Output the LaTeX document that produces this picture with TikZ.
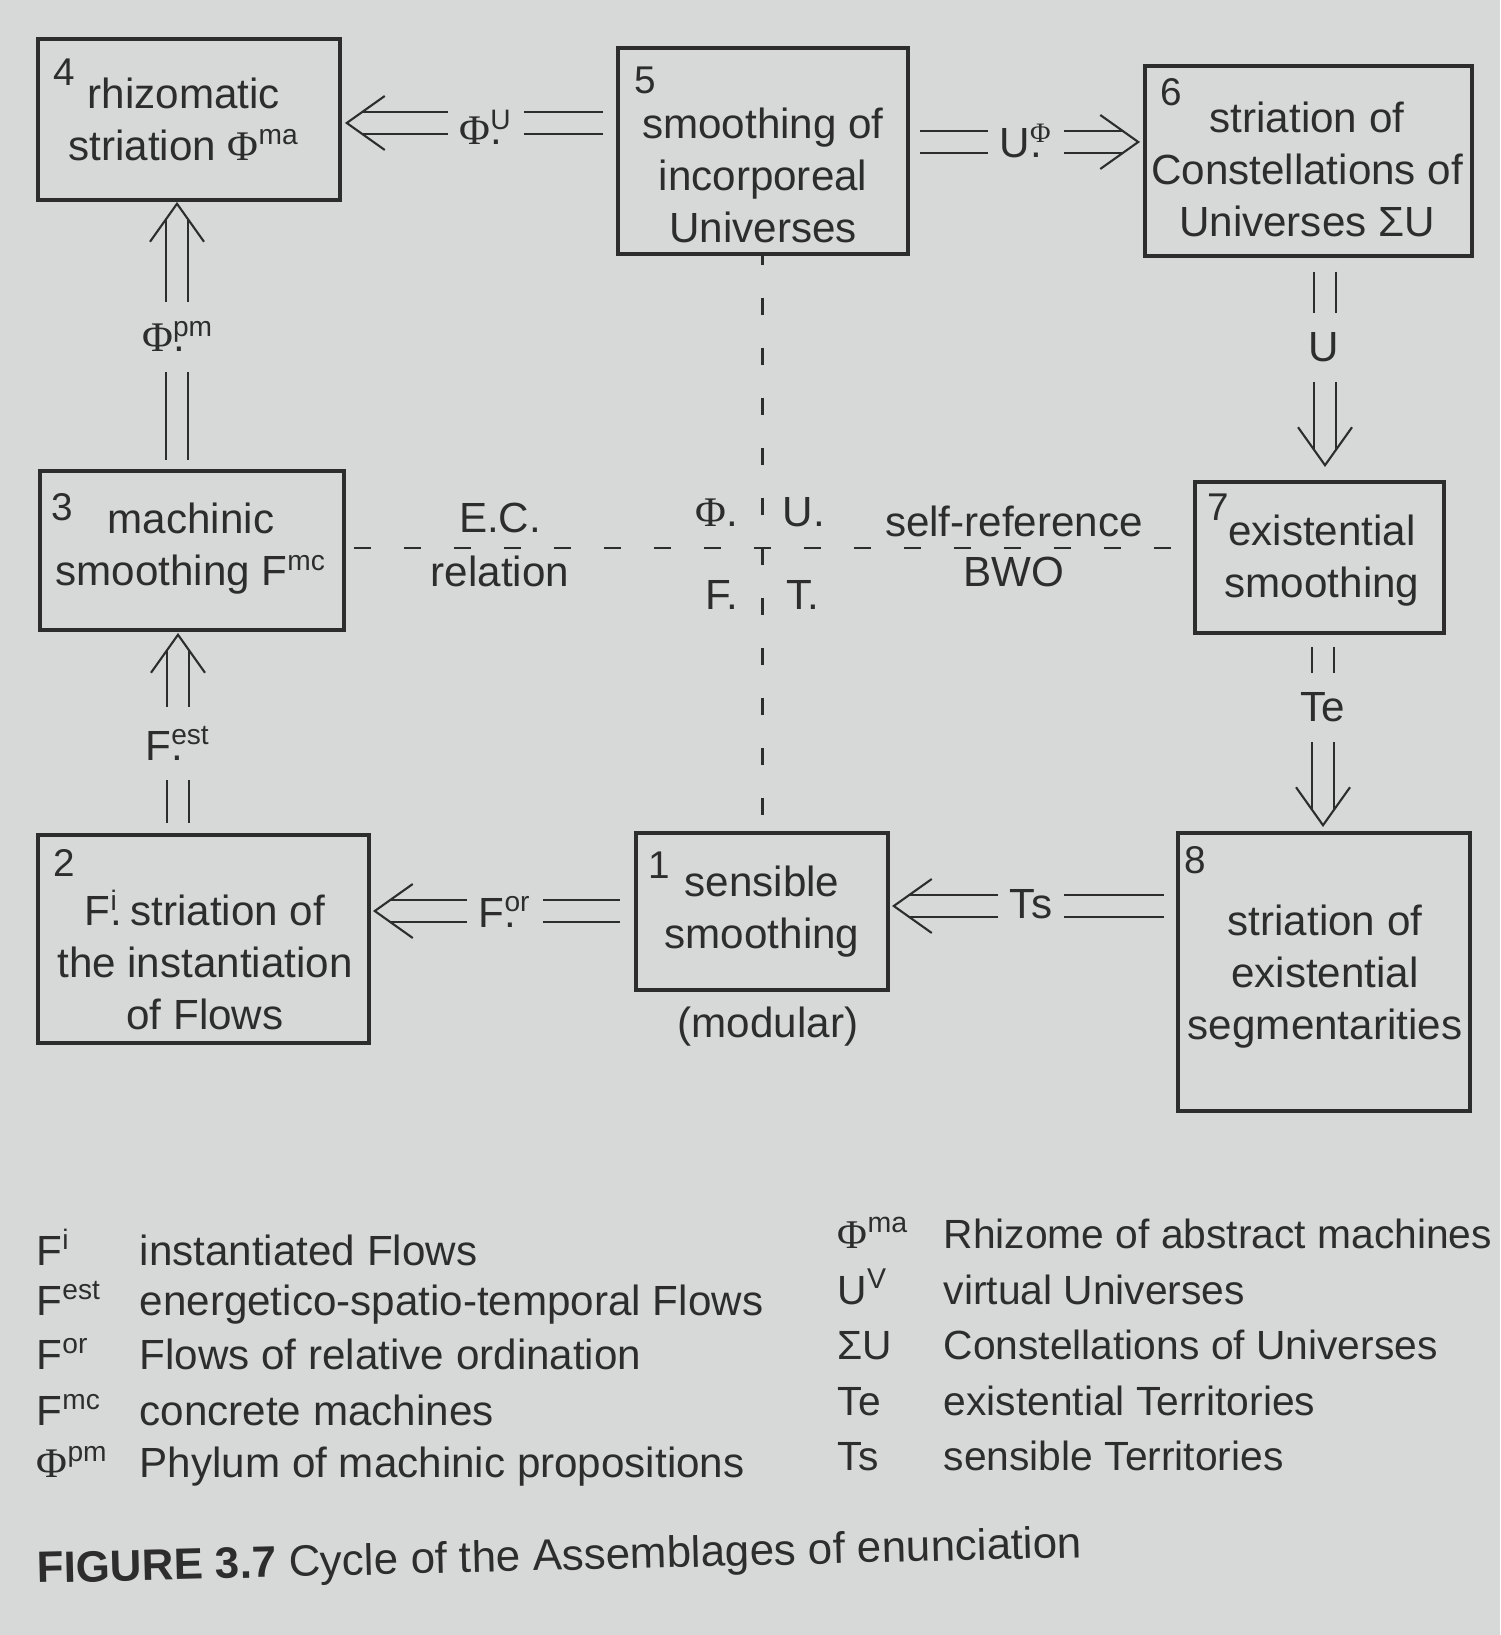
\documentclass[tikz,border=0pt]{standalone}
\usepackage{fontspec}
\setmainfont{Liberation Sans}
\newfontfamily\phifont{Liberation Serif}
\usetikzlibrary{calc}

\definecolor{paper}{RGB}{215,217,216}
\definecolor{ink}{RGB}{45,45,45}

% dot under a superscript, phi in serif
\newcommand{\dotsup}[1]{\rlap{.}\textsuperscript{#1}}
\newcommand{\Phisym}{{\phifont Φ}}

\tikzset{
  cell/.style={draw=ink, line width=1pt, inner sep=0pt},
  celltext/.style={text=ink, align=center, font=\fontsize{12}{14.8}\selectfont},
  num/.style={text=ink, anchor=north west, inner sep=0pt, font=\fontsize{11}{13}\selectfont},
  dbl/.style={draw=ink, double=paper, double distance=0.2cm, line width=0.6pt},
  dashline/.style={draw=ink, line width=0.6pt, dash pattern=on 0.17cm off 0.33cm},
  lbl/.style={text=ink, fill=paper, anchor=base, inner xsep=0.12cm, inner ysep=0.2cm, font=\fontsize{12}{14}\selectfont},
  note/.style={text=ink, anchor=base, inner sep=0pt, font=\fontsize{12}{14}\selectfont},
  key/.style={text=ink, anchor=base west, inner sep=0pt, font=\fontsize{12}{14}\selectfont},
  keyr/.style={key, font=\fontsize{11.6}{14}\selectfont},
  chev/.pic={\draw[ink, line width=0.6pt] (-0.38,0.27) -- (0,0) -- (-0.38,-0.27);},
}

\begin{document}
\begin{tikzpicture}
    \fill[paper] (0,0) rectangle (15,-16.35);
    \useasboundingbox (0,0) rectangle (15,-16.35);

    % Boxes
    \node[cell, minimum width=3.02cm, minimum height=1.61cm] (b4) at (1.89,-1.195) {};
    \node[cell, minimum width=2.90cm, minimum height=2.06cm] (b5) at (7.63,-1.51) {};
    \node[cell, minimum width=3.27cm, minimum height=1.90cm] (b6) at (13.085,-1.61) {};
    \node[cell, minimum width=3.04cm, minimum height=1.59cm] (b3) at (1.92,-5.505) {};
    \node[cell, minimum width=2.49cm, minimum height=1.51cm] (b7) at (13.195,-5.575) {};
    \node[cell, minimum width=3.31cm, minimum height=2.08cm] (b2) at (2.035,-9.39) {};
    \node[cell, minimum width=2.52cm, minimum height=1.57cm] (b1) at (7.62,-9.115) {};
    \node[cell, minimum width=2.92cm, minimum height=2.78cm] (b8) at (13.24,-9.72) {};

    % Box texts
    \node[celltext] (t4) at (1.84,-1.19) {rhizomatic\\striation \Phisym\textsuperscript{ma}};
    \node[celltext] (t5) at (7.63,-1.75) {smoothing of\\incorporeal\\Universes};
    \node[celltext] (t6) at (13.07,-1.69) {striation of\\Constellations of\\Universes ΣU};
    \node[celltext] (t3) at (1.91,-5.49) {machinic\\smoothing F\textsuperscript{mc}};
    \node[celltext] (t7) at (13.22,-5.61) {existential\\smoothing};
    \node[celltext] (t2) at (2.05,-9.60) {F\dotsup{i} striation of\\the instantiation\\of Flows};
    \node[celltext] (t1) at (7.62,-9.12) {sensible\\smoothing};
    \node[celltext] (t8) at (13.25,-9.77) {striation of\\existential\\segmentarities};
    \node[celltext] (tmod) at (7.68,-10.27) {(modular)};

    % Numbers
    \node[num] (n4) at ($(b4.north west)+(0.17,-0.21)$) {4};
    \node[num] (n5) at ($(b5.north west)+(0.18,-0.20)$) {5};
    \node[num] (n6) at ($(b6.north west)+(0.17,-0.14)$) {6};
    \node[num] (n3) at ($(b3.north west)+(0.13,-0.24)$) {3};
    \node[num] (n7) at ($(b7.north west)+(0.14,-0.13)$) {7};
    \node[num] (n2) at ($(b2.north west)+(0.17,-0.16)$) {2};
    \node[num] (n1) at ($(b1.north west)+(0.14,-0.20)$) {1};
    \node[num] (n8) at ($(b8.north west)+(0.08,-0.15)$) {8};

    % Dashed cross
    \coordinate (hub) at (7.625,-5.48);
    \draw[dashline, dash phase=0.42cm] (b3.east |- hub) -- (b7.west |- hub);
    \draw[dashline, dash phase=0.08cm] (b5.south -| hub) -- (b1.north -| hub);

    % Double arrows
    \coordinate (r54) at (0,-1.23);
    \coordinate (r56) at (0,-1.42);
    \coordinate (c67) at (13.25,0);
    \coordinate (c78) at (13.23,0);
    \coordinate (r81) at (0,-9.06);
    \coordinate (r12) at (0,-9.11);
    \coordinate (c23) at (1.78,0);
    \coordinate (c34) at (1.77,0);

    \draw[dbl] ($(b5.west |- r54)+(-0.13,0)$) -- ($(b4.east |- r54)+(0.21,0)$);
    \pic[rotate=180] at ($(b4.east |- r54)+(0.05,0)$) {chev};

    \draw[dbl] ($(b5.east |- r56)+(0.10,0)$) -- ($(b6.west |- r56)+(-0.21,0)$);
    \pic at ($(b6.west |- r56)+(-0.05,0)$) {chev};

    \draw[dbl] ($(b6.south -| c67)+(0,-0.14)$) -- ($(b7.north -| c67)+(0,0.31)$);
    \pic[rotate=-90] at ($(b7.north -| c67)+(0,0.15)$) {chev};

    \draw[dbl] ($(b7.south -| c78)+(0,-0.12)$) -- ($(b8.north -| c78)+(0,0.22)$);
    \pic[rotate=-90] at ($(b8.north -| c78)+(0,0.06)$) {chev};

    \draw[dbl] ($(b8.west |- r81)+(-0.12,0)$) -- ($(b1.east |- r81)+(0.20,0)$);
    \pic[rotate=180] at ($(b1.east |- r81)+(0.04,0)$) {chev};

    \draw[dbl] ($(b1.west |- r12)+(-0.14,0)$) -- ($(b2.east |- r12)+(0.20,0)$);
    \pic[rotate=180] at ($(b2.east |- r12)+(0.04,0)$) {chev};

    \draw[dbl] ($(b2.north -| c23)+(0,0.10)$) -- ($(b3.south -| c23)+(0,-0.19)$);
    \pic[rotate=90] at ($(b3.south -| c23)+(0,-0.03)$) {chev};

    \draw[dbl] ($(b3.north -| c34)+(0,0.09)$) -- ($(b4.south -| c34)+(0,-0.18)$);
    \pic[rotate=90] at ($(b4.south -| c34)+(0,-0.02)$) {chev};

    % Arrow labels
    \node[lbl] (lphiu) at (4.86,-1.45) {\Phisym\dotsup{U}};
    \node[lbl] (luphi) at (10.26,-1.58) {U\dotsup{\Phisym}};
    \node[lbl] (lu) at (13.24,-3.62) {U};
    \node[lbl] (lte) at (13.23,-7.22) {Te};
    \node[lbl] (lts) at (10.31,-9.18) {Ts};
    \node[lbl] (lfor) at (5.05,-9.27) {F\dotsup{or}};
    \node[lbl] (lfest) at (1.78,-7.60) {F\dotsup{est}};
    \node[lbl] (lphipm) at (1.78,-3.52) {\Phisym\dotsup{pm}};

    % Relation labels
    \node[note] (lec) at (5.00,-5.33) {E.C.};
    \node[note] (lrel) at (5.00,-5.87) {relation};
    \node[note] (lself) at (10.14,-5.37) {self-reference};
    \node[note] (lbwo) at (10.14,-5.87) {BWO};
    \node[note] (qphi) at (7.17,-5.27) {\Phisym.};
    \node[note] (qu) at (8.04,-5.27) {U.};
    \node[note] (qf) at (7.22,-6.10) {F.};
    \node[note] (qt) at (8.03,-6.10) {T.};

    % Legend
    \node[key] (k1) at (0.36,-12.65) {\makebox[1.03cm][l]{F\textsuperscript{i}}instantiated Flows};
    \node[key] (k2) at (0.36,-13.15) {\makebox[1.03cm][l]{F\textsuperscript{est}}energetico-spatio-temporal Flows};
    \node[key] (k3) at (0.36,-13.69) {\makebox[1.03cm][l]{F\textsuperscript{or}}Flows of relative ordination};
    \node[key] (k4) at (0.36,-14.25) {\makebox[1.03cm][l]{F\textsuperscript{mc}}concrete machines};
    \node[key] (k5) at (0.36,-14.77) {\makebox[1.03cm][l]{\Phisym\textsuperscript{pm}}Phylum of machinic propositions};
    \node[keyr] (k6) at (8.37,-12.48) {\makebox[1.06cm][l]{\Phisym\textsuperscript{ma}}Rhizome of abstract machines};
    \node[keyr] (k7) at (8.37,-13.04) {\makebox[1.06cm][l]{U\textsuperscript{V}}virtual Universes};
    \node[keyr] (k8) at (8.37,-13.59) {\makebox[1.06cm][l]{ΣU}Constellations of Universes};
    \node[keyr] (k9) at (8.37,-14.15) {\makebox[1.06cm][l]{Te}existential Territories};
    \node[keyr] (k10) at (8.37,-14.70) {\makebox[1.06cm][l]{Ts}sensible Territories};

    % Caption
    \node[key, rotate=1.4, font=\fontsize{12.5}{15}\selectfont] (cap) at (0.37,-15.83) {\textbf{FIGURE 3.7} Cycle of the Assemblages of enunciation};

\end{tikzpicture}
\end{document}
